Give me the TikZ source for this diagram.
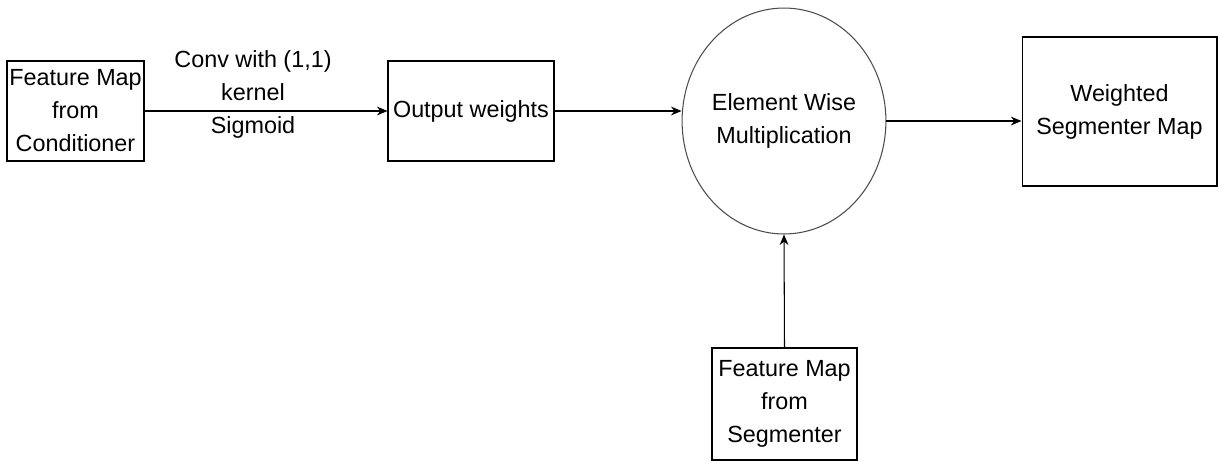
\documentclass[tikz,border=0pt]{standalone}
\usepackage{fontspec}
\setmainfont{Liberation Sans}
\usetikzlibrary{arrows.meta,shapes.geometric}

\begin{document}
\begin{tikzpicture}[
                x=0.02cm, y=-0.02cm,
                every node/.style={font=\fontsize{13.3}{18.8}\selectfont, align=center, inner sep=0pt},
                mapbox/.style={rectangle, draw=black, line width=0.6pt, fill=white},
                opellipse/.style={ellipse, draw=black!70, line width=0.6pt, minimum width=3.56cm, minimum height=4.52cm},
                flow/.style={-{Stealth[length=6pt,width=5pt]}, line width=0.6pt, draw=black}
            ]
                \useasboundingbox (0,0) rectangle (1220,461);

                % Boxes and the multiply step
                \node[mapbox, minimum width=2.74cm, minimum height=2.0cm] (condmap) at (75.5,111) {Feature Map\\from\\Conditioner};
                \node[mapbox, minimum width=3.32cm, minimum height=2.0cm] (outw) at (471,111) {Output weights};
                \node[opellipse] (mult) at (784,121) {Element Wise\\Multiplication};
                \node[mapbox, minimum width=3.9cm, minimum height=2.98cm] (wmap) at (1119.5,111.5) {Weighted\\Segmenter Map};
                \node[mapbox, minimum width=2.9cm, minimum height=2.24cm] (segmap) at (784.5,404) {Feature Map\\from\\Segmenter};

                % Label over the first arrow
                \node (convlbl) at (253,94) {Conv with (1,1)\\kernel\\Sigmoid};

                % Arrows
                \draw[flow] (condmap.east) -- (outw.west);
                \draw[flow] (outw.east) -- (outw.east -| mult.west);
                \draw[flow] (mult.east) -- (mult.east -| wmap.west);
                \draw[flow] (segmap.north) -- (mult.south);
            \end{tikzpicture}
\end{document}
